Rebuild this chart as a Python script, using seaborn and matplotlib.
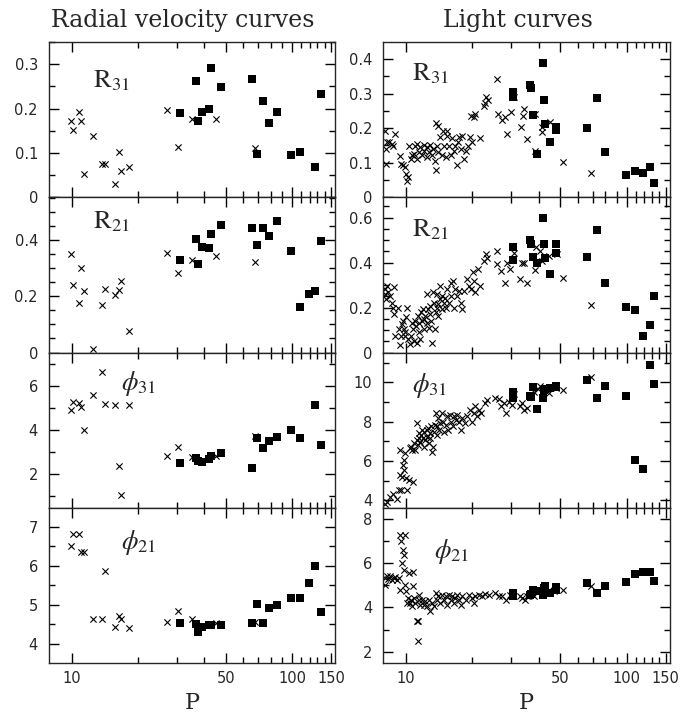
import numpy as np
import matplotlib
matplotlib.use("Agg")
import matplotlib.pyplot as plt
from matplotlib.ticker import MultipleLocator, NullFormatter, FixedLocator
import seaborn as sns

nan = np.nan

# ---- radial velocity curves (left column) ----
rv_P_cross = [9.9, 10.2, 10.8, 11.0, 11.4, 12.5, 13.7, 14.2, 15.8, 16.4, 16.7, 18.2,
              27.1, 30.2, 35.3, 45.0, 67.9]
rv_R31_cross = [0.173, 0.151, 0.193, 0.173, 0.052, 0.138, 0.074, 0.076, 0.029, 0.103, 0.060, 0.068,
                0.197, 0.113, 0.177, 0.177, 0.112]
rv_R21_cross = [0.351, 0.239, 0.176, 0.302, 0.218, 0.012, 0.168, 0.226, 0.205, 0.224, 0.256, 0.076,
                0.355, 0.284, 0.329, 0.344, 0.322]
rv_phi31_cross = [4.90, 5.29, 5.24, 5.06, 4.00, 5.59, 6.64, 5.19, 5.16, 2.35, 1.06, 5.15,
                  2.82, 3.23, 2.78, 2.81, 3.75]
rv_phi21_cross = [6.51, 6.80, 6.80, 6.36, 6.36, 4.64, 4.64, 5.87, 4.44, 4.70, 4.63, 4.41,
                  4.57, 4.83, 4.63, 4.54, 4.57]

rv_P_square = [31.0, 36.8, 37.5, 39.1, 42.0, 42.8, 47.6, 65.8, 69.1, 73.5, 78.8, 85.0,
               98.5, 108.3, 118.5, 126.3, 134.9]
rv_R31_square = [0.189, 0.261, 0.172, 0.192, 0.198, 0.291, 0.248, 0.266, 0.097, 0.217, 0.168, 0.193,
                 0.096, 0.101, nan, 0.068, 0.232]
rv_R21_square = [0.329, 0.402, 0.314, 0.374, 0.371, 0.420, 0.455, 0.441, 0.381, 0.441, 0.413, 0.467,
                 0.360, 0.162, 0.207, 0.219, 0.395]
rv_phi31_square = [2.50, 2.73, 2.61, 2.53, 2.70, 2.84, 2.96, 2.27, 3.64, 3.19, 3.49, 3.69,
                   4.01, 3.64, nan, 5.15, 3.31]
rv_phi21_square = [4.53, 4.51, 4.31, 4.43, 4.49, 4.49, 4.49, 4.53, 5.01, 4.53, 4.91, 4.99,
                   5.17, 5.17, 5.55, 6.00, 4.81]

# ---- light curves (right column) ----
lc_P_square = [30.4, 30.4, 36.6, 36.8, 37.6, 39.3, 41.6, 42.1, 42.5, 45.1, 48.0, 48.0,
               66.1, 73.7, 79.4, 99.0, 109.5, 117.9, 127.0, 133.3]
lc_R31_square = [0.304, 0.289, 0.325, 0.315, 0.238, 0.125, 0.389, 0.282, 0.211, 0.159, 0.203, 0.195,
                 0.200, 0.286, 0.130, 0.065, 0.077, 0.070, 0.087, 0.040]
lc_R21_square = [0.470, 0.410, 0.499, 0.481, 0.425, 0.396, 0.600, 0.484, 0.418, 0.347, 0.484, 0.444,
                 0.425, 0.544, 0.307, 0.204, 0.188, 0.074, 0.124, 0.249]
lc_phi31_square = [9.49, 9.23, 9.29, 9.25, 9.76, 8.64, 9.20, 9.59, 9.66, 9.71, 9.83, 9.78,
                   10.14, 9.20, 9.80, 9.32, 6.05, 5.60, 10.90, 9.91]
lc_phi21_square = [4.65, 4.50, 4.54, 4.60, 4.80, 4.72, 4.57, 4.87, 4.95, 4.65, 4.92, 4.80,
                   5.10, 4.65, 4.98, 5.14, 5.52, 5.59, 5.59, 5.20]

lc_R31_P = [8.06, 8.1, 8.1, 8.2, 8.4, 8.6, 8.9, 8.7, 9.4, 9.5, 9.7, 9.9, 10.0, 10.1, 10.2, 10.3,
            10.5, 10.6, 10.9, 11.0, 11.2, 11.2, 11.5, 11.6, 11.8, 12.0, 12.1, 12.4, 12.5, 12.7,
            12.9, 13.1, 13.2, 13.5, 13.6, 13.6, 13.8, 13.9, 14.0, 14.3, 14.5, 14.7, 14.9, 15.1,
            15.3, 15.4, 15.7, 15.9, 16.2, 16.5, 16.7, 17.0, 17.2, 17.4, 17.7, 18.0, 18.3, 18.6,
            19.1, 19.4, 19.9, 19.6, 20.3, 20.5, 21.7, 22.5, 22.9, 23.1, 23.5,
            25.8, 26.0, 27.1, 28.0, 28.7, 30.0, 30.8, 33.3, 34.1, 33.9, 35.4, 38.5, 38.5,
            41.1, 41.3, 45.1, 51.4, 68.8]
lc_R31 = [0.193, 0.140, 0.096, 0.159, 0.161, 0.154, 0.183, 0.148, 0.120, 0.096, 0.092, 0.087,
          0.068, 0.048, 0.058, 0.149, 0.111, 0.121, 0.125, 0.149, 0.154, 0.111, 0.130, 0.145,
          0.121, 0.152, 0.135, 0.116, 0.145, 0.130, 0.151, 0.121, 0.140, 0.106, 0.080, 0.215,
          0.149, 0.207, 0.130, 0.174, 0.121, 0.193, 0.149, 0.116, 0.178, 0.193, 0.149, 0.121,
          0.171, 0.135, 0.149, 0.092, 0.159, 0.174, 0.140, 0.178, 0.111, 0.135, 0.149, 0.174,
          0.159, 0.236, 0.231, 0.241, 0.171, 0.265, 0.273, 0.289, 0.282,
          0.342, 0.241, 0.222, 0.231, 0.183, 0.246, 0.289, 0.203, 0.255, 0.236, 0.169, 0.241,
          0.135, 0.188, 0.203, 0.217, 0.103, 0.069]

lc_R21_P = [8.0, 8.06, 8.1, 8.2, 8.3, 8.5, 8.8, 8.6, 8.7, 8.8, 8.9, 9.2, 9.3, 9.4, 9.5, 9.6,
            9.7, 9.8, 9.9, 9.9, 10.0, 10.1, 10.2, 10.4, 10.5, 10.6, 10.8, 10.9, 11.0, 11.1,
            11.2, 11.3, 11.4, 11.5, 11.6, 11.7, 11.8, 11.9, 12.0, 12.1, 12.2, 12.4, 12.5, 12.6,
            12.7, 12.8, 12.9, 13.0, 13.1, 13.2, 13.4, 13.5, 13.6, 13.8, 13.8, 14.0, 14.0, 14.2,
            14.3, 14.5, 14.6, 14.8, 15.0, 15.1, 15.3, 15.6, 15.9, 16.0, 16.3, 16.5, 16.7, 17.0,
            17.4, 17.7, 18.0, 18.3, 18.8, 19.2, 19.6, 20.1, 20.4, 20.6, 21.2, 21.7, 22.6, 23.1,
            23.3, 25.8, 25.8, 27.0, 28.2, 28.7, 29.7, 30.8, 33.0, 33.5, 34.1, 35.4, 38.5, 38.9,
            40.6, 41.3, 44.3, 48.3, 51.4, 68.8]
lc_R21 = [0.259, 0.281, 0.237, 0.296, 0.267, 0.252, 0.289, 0.222, 0.200, 0.170, 0.074, 0.200,
          0.104, 0.033, 0.074, 0.126, 0.141, 0.104, 0.089, 0.074, 0.156, 0.200, 0.059, 0.037,
          0.074, 0.133, 0.104, 0.052, 0.141, 0.119, 0.044, 0.163, 0.089, 0.133, 0.059, 0.178,
          0.141, 0.193, 0.148, 0.104, 0.163, 0.262, 0.133, 0.193, 0.111, 0.170, 0.207, 0.141,
          0.044, 0.267, 0.222, 0.104, 0.178, 0.200, 0.259, 0.163, 0.215, 0.237, 0.296, 0.193,
          0.252, 0.222, 0.244, 0.200, 0.281, 0.222, 0.311, 0.252, 0.319, 0.200, 0.281, 0.252,
          0.274, 0.222, 0.193, 0.274, 0.326, 0.296, 0.281, 0.356, 0.319, 0.267, 0.370, 0.296,
          0.407, 0.437, 0.422, 0.452, 0.393, 0.363, 0.311, 0.400, 0.373, 0.444, 0.326, 0.396,
          0.396, 0.311, 0.366, 0.467, 0.452, 0.407, 0.430, 0.437, 0.329, 0.210]

lc_phi31_P = [8.06, 8.2, 8.5, 8.7, 9.1, 9.3, 9.4, 9.4, 9.5, 9.6, 9.7, 9.8, 9.8, 9.9, 10.0,
              10.1, 10.3, 10.4, 10.5, 10.6, 10.8, 10.9, 11.0, 11.2, 11.2, 11.3, 11.4, 11.5,
              11.6, 11.7, 11.8, 11.9, 12.0, 12.1, 12.2, 12.4, 12.5, 12.6, 12.7, 12.8, 12.9,
              13.0, 13.1, 13.2, 13.4, 13.5, 13.6, 13.8, 13.8, 14.0, 14.1, 14.3, 14.5, 14.7,
              14.9, 15.1, 15.3, 15.5, 15.8, 16.0, 16.3, 16.5, 16.8, 17.0, 17.4, 17.7, 18.0,
              18.4, 18.9, 19.4, 19.9, 20.3, 20.6, 21.0, 21.3, 21.9, 22.9, 23.3, 25.4, 26.3,
              27.0, 27.7, 28.4, 29.2, 30.3, 30.8, 33.0, 33.5, 34.1, 35.4, 37.9, 39.7, 40.6,
              43.5, 44.3, 47.6, 51.4, 68.8]
lc_phi31 = [3.84, 3.93, 4.18, 4.35, 4.10, 4.52, 6.56, 5.29, 4.52, 5.20, 5.80, 5.54, 6.05, 6.39,
            5.12, 4.52, 5.03, 6.65, 6.73, 6.56, 4.95, 6.90, 6.56, 7.07, 7.93, 6.82, 7.16, 7.41,
            6.99, 7.33, 7.59, 7.16, 6.73, 7.50, 7.07, 7.59, 7.24, 7.67, 6.90, 7.41, 7.16, 7.76,
            6.48, 6.73, 7.50, 7.84, 8.44, 7.33, 7.76, 8.18, 7.59, 7.93, 8.44, 8.01, 7.50, 7.84,
            8.27, 7.59, 8.35, 8.01, 7.76, 8.27, 8.10, 8.35, 8.01, 7.59, 8.18, 7.93, 8.27, 8.61,
            8.01, 8.44, 8.78, 8.27, 8.61, 8.44, 8.95, 9.12, 9.20, 9.15, 8.78, 8.95, 8.47, 9.03,
            8.86, 9.40, 8.78, 8.95, 8.61, 8.69, 9.49, 9.66, 9.83, 9.66, 9.46, 9.71, 9.63, 10.27]

lc_phi21_P = [8.0, 8.06, 8.2, 8.3, 8.5, 8.6, 8.8, 8.9, 9.1, 9.3, 9.4, 9.4, 9.5, 9.6, 9.7, 9.8,
              9.8, 9.9, 9.9, 10.0, 10.1, 10.2, 10.3, 10.4, 10.5, 10.6, 10.8, 10.8, 10.9, 11.0,
              11.2, 11.3, 11.3, 11.4, 11.5, 11.6, 11.8, 12.0, 12.2, 12.5, 12.7, 12.9, 13.1,
              13.4, 13.6, 13.8, 14.0, 14.3, 14.6, 14.8, 15.1, 15.3, 15.6, 15.9, 16.2, 16.5,
              16.7, 17.0, 17.4, 17.7, 18.0, 18.6, 19.2, 19.9, 20.3, 20.6, 21.3, 22.1, 22.9,
              23.7, 25.4, 26.3, 27.2, 28.4, 29.7, 33.0, 33.5, 34.7, 35.4, 37.9, 39.7, 42.1,
              44.3, 46.7, 51.4, 68.8]
lc_phi21 = [5.02, 5.32, 5.40, 5.29, 5.40, 5.25, 5.32, 5.37, 5.25, 5.32, 4.80, 7.28, 6.98, 6.00,
            6.60, 6.38, 5.70, 7.28, 5.02, 4.72, 4.20, 4.42, 5.55, 4.20, 4.35, 4.05, 5.62, 4.95,
            4.42, 4.20, 3.37, 3.37, 2.47, 4.57, 4.35, 4.12, 4.35, 4.12, 4.27, 4.05, 4.35, 3.82,
            4.20, 4.05, 4.65, 4.35, 4.50, 4.20, 4.57, 4.35, 4.50, 4.12, 4.57, 4.35, 4.50, 4.20,
            4.42, 4.57, 4.35, 4.12, 4.50, 4.35, 4.57, 4.42, 4.20, 4.50, 4.57, 4.50, 4.62, 4.57,
            4.65, 4.50, 4.50, 4.35, 4.57, 4.50, 4.42, 4.35, 4.50, 4.50, 4.80, 4.72, 4.80, 4.72,
            4.80, 4.98]

sns.set_style("ticks")
plt.rcParams["mathtext.fontset"] = "stix"
plt.rcParams["font.family"] = ["DejaVu Sans"]

fig, axes = plt.subplots(4, 2, figsize=(6.96, 7.15), dpi=100, sharex=True)
fig.subplots_adjust(left=0.0704, right=0.9626, top=1 - 42 / 715, bottom=0.0727,
                    hspace=0, wspace=0.1675)

panels = [
    # ax, crossP, crossY, sqP, sqY, ylim, major, minor, label, (lx, ly)
    (axes[0, 0], rv_P_cross, rv_R31_cross, rv_P_square, rv_R31_square, (0, 0.35), 0.1, 0.05,
     r"$\mathrm{R}_{31}$", (0.155, 0.755)),
    (axes[1, 0], rv_P_cross, rv_R21_cross, rv_P_square, rv_R21_square, (0, 0.552), 0.2, 0.05,
     r"$\mathrm{R}_{21}$", (0.155, 0.846)),
    (axes[2, 0], rv_P_cross, rv_phi31_cross, rv_P_square, rv_phi31_square, (0.46, 7.54), 2, 1,
     r"$\phi_{31}$", (0.25, 0.80)),
    (axes[3, 0], rv_P_cross, rv_phi21_cross, rv_P_square, rv_phi21_square, (3.51, 7.48), 1, 0.5,
     r"$\phi_{21}$", (0.25, 0.774)),
    (axes[0, 1], lc_R31_P, lc_R31, lc_P_square, lc_R31_square, (0, 0.449), 0.1, 0.05,
     r"$\mathrm{R}_{31}$", (0.10, 0.80)),
    (axes[1, 1], lc_R21_P, lc_R21, lc_P_square, lc_R21_square, (0, 0.69), 0.2, 0.05,
     r"$\mathrm{R}_{21}$", (0.10, 0.795)),
    (axes[2, 1], lc_phi31_P, lc_phi31, lc_P_square, lc_phi31_square, (3.63, 11.52), 2, 1,
     r"$\phi_{31}$", (0.10, 0.787)),
    (axes[3, 1], lc_phi21_P, lc_phi21, lc_P_square, lc_phi21_square, (1.49, 8.5), 2, 1,
     r"$\phi_{21}$", (0.175, 0.72)),
]

for ax, cp, cy, sp, sy, ylim, major, minor, label, (lx, ly) in panels:
    sns.scatterplot(x=cp, y=cy, ax=ax, marker="x", color="k", s=20, linewidth=0.8)
    sns.scatterplot(x=sp, y=sy, ax=ax, marker="s", color="k", s=28, linewidth=0)
    ax.set_xscale("log")
    ax.set_xlim(7.9, 157)
    ax.set_ylim(*ylim)
    ax.yaxis.set_major_locator(MultipleLocator(major))
    ax.yaxis.set_minor_locator(MultipleLocator(minor))
    ax.yaxis.set_major_formatter(plt.FuncFormatter(lambda v, p: f"{v:g}"))
    ax.set(xlabel="", ylabel="")
    ax.text(lx, ly, label, transform=ax.transAxes, fontsize=19, ha="left", va="center")
    for sp_ in ax.spines.values():
        sp_.set_linewidth(1.0)
        sp_.set_visible(True)

for ax in axes.flat:
    ax.xaxis.set_major_locator(FixedLocator([10, 50, 100, 150]))
    ax.xaxis.set_minor_locator(FixedLocator([20, 30, 40, 60, 70, 80, 90, 110, 120, 130, 140]))
    ax.xaxis.set_major_formatter(plt.FuncFormatter(lambda v, p: f"{v:g}"))
    ax.xaxis.set_minor_formatter(NullFormatter())
    ax.tick_params(which="both", direction="in", top=True, right=True, labelsize=10.5,
                   width=1.0, color="k")
    ax.tick_params(which="major", length=7)
    ax.tick_params(which="minor", length=4)
    ax.tick_params(axis="y", pad=8)

for ax in axes[:3].flat:
    ax.tick_params(labelbottom=False)
for ax in axes[3]:
    ax.tick_params(axis="x", labelbottom=True, pad=6)
    ax.set_xlabel("P", fontfamily="DejaVu Serif", fontsize=16, labelpad=4)

fig.text(182.5 / 696, 1 - 20 / 715, "Radial velocity curves", family="DejaVu Serif",
         fontsize=17, ha="center", va="center")
fig.text(517.5 / 696, 1 - 20 / 715, "Light curves", family="DejaVu Serif",
         fontsize=17, ha="center", va="center")

fig.savefig("out.png", dpi=100)
